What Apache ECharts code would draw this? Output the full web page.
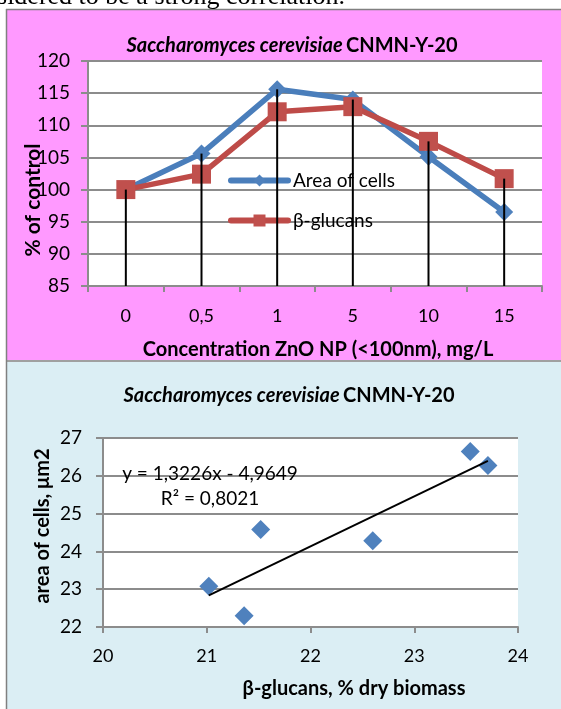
<!DOCTYPE html>
<html><head><meta charset="utf-8">
<script src="https://cdn.jsdelivr.net/npm/echarts@6/dist/echarts.min.js"></script>
<style>html,body{margin:0;padding:0;background:#fff;overflow:hidden}#c{width:561px;height:709px}</style>
</head><body><div id="c"></div>
<script>
// ---- Top chart data ----
const categories = ['0', '0,5', '1', '5', '10', '15'];
const areaOfCells = [100, 105.6, 115.6, 114.0, 105.1, 96.5];
const betaGlucans = [100, 102.4, 112.1, 112.9, 107.5, 101.7];
const topYMin = 85, topYMax = 120, topYStep = 5;

// ---- Bottom chart data ----
const glucansX = [21.02, 21.36, 21.52, 22.60, 23.54, 23.71];
const cellAreaY = [23.08, 22.30, 24.58, 24.28, 26.64, 26.27];
const trendSlope = 1.3226, trendIntercept = -4.9649;
const trendLabel = 'y = 1,3226x - 4,9649';
const r2Label = 'R² = 0,8021';
const botXMin = 20, botXMax = 24, botYMin = 22, botYMax = 27;

const F = 'Lato';
const GRID = '#8c8c8c';

const dropData = categories.map((_, i) => Math.max(areaOfCells[i], betaGlucans[i]));
const scatterData = glucansX.map((x, i) => [x, cellAreaY[i]]);
const tx0 = Math.min(...glucansX), tx1 = Math.max(...glucansX);
const trendData = [[tx0, trendSlope * tx0 + trendIntercept], [tx1, trendSlope * tx1 + trendIntercept]];

const titleRich = {
  i: { fontFamily: F, fontSize: 20, fontWeight: 'bold', fontStyle: 'italic', fill: '#000' },
  b: { fontFamily: F, fontSize: 20, fontWeight: 'bold', fill: '#000' }
};

const chart = echarts.init(document.getElementById('c'));
chart.setOption({
  animation: false,
  graphic: { elements: [
    { type: 'rect', z: -10, shape: { x: 7, y: 10, width: 554, height: 350 }, style: { fill: '#FF99FF' } },
    { type: 'rect', z: -10, shape: { x: 7, y: 362, width: 554, height: 347 }, style: { fill: '#DBEEF4' } },
    { type: 'line', z: -9, shape: { x1: 6.5, y1: 9, x2: 6.5, y2: 709 }, style: { stroke: '#808080', lineWidth: 1.5 } },
    { type: 'line', z: -9, shape: { x1: 6, y1: 9.5, x2: 561, y2: 9.5 }, style: { stroke: '#808080', lineWidth: 1.5 } },
    { type: 'line', z: -9, shape: { x1: 6, y1: 361, x2: 561, y2: 361 }, style: { stroke: '#808080', lineWidth: 1.5 } },
    { type: 'text', x: 345, y: -3, style: { text: 'considered to be a strong correlation.', font: '26px "Liberation Serif"', fill: '#000', align: 'right', verticalAlign: 'middle' } },
    { type: 'text', x: 292, y: 46, style: { text: '{i|Saccharomyces cerevisiae} {b|CNMN-Y-20}', rich: titleRich, align: 'center', verticalAlign: 'middle' } },
    { type: 'text', x: 289, y: 396, style: { text: '{i|Saccharomyces cerevisiae} {b|CNMN-Y-20}', rich: titleRich, align: 'center', verticalAlign: 'middle' } },
    { type: 'text', x: 33, y: 200, rotation: Math.PI / 2, style: { text: '% of control', font: 'bold 21px ' + F, fill: '#000', align: 'center', verticalAlign: 'middle' } },
    { type: 'text', x: 318, y: 350, style: { text: 'Concentration ZnO NP (<100nm), mg/L', font: 'bold 20px ' + F, fill: '#000', align: 'center', verticalAlign: 'middle' } },
    { type: 'text', x: 43, y: 526, rotation: Math.PI / 2, style: { text: 'area of cells, μm2', font: 'bold 20px ' + F, fill: '#000', align: 'center', verticalAlign: 'middle' } },
    { type: 'text', x: 354, y: 689, style: { text: 'β-glucans, % dry biomass', font: 'bold 20px ' + F, fill: '#000', align: 'center', verticalAlign: 'middle' } },
    { type: 'text', x: 210, y: 474, z: 10, style: { text: trendLabel, font: '19px ' + F, fill: '#000', align: 'center', verticalAlign: 'middle' } },
    { type: 'text', x: 210, y: 499, z: 10, style: { text: r2Label, font: '19px ' + F, fill: '#000', align: 'center', verticalAlign: 'middle' } }
  ]},
  legend: {
    left: 228, top: 171, orient: 'vertical', padding: 0,
    itemWidth: 57, itemHeight: 15, itemGap: 21,
    data: ['Area of cells', 'β-glucans'],
    lineStyle: { width: 6, cap: 'round' },
    textStyle: { fontFamily: F, fontSize: 19, color: '#000' }
  },
  grid: [
    { left: 88, top: 61, width: 454, height: 225, show: true, backgroundColor: '#fff', borderWidth: 0 },
    { left: 103, top: 438, width: 415, height: 189, show: true, backgroundColor: '#fff', borderWidth: 0 }
  ],
  xAxis: [
    { type: 'category', gridIndex: 0, data: categories, boundaryGap: true,
      axisLine: { onZero: false, lineStyle: { color: GRID, width: 2 } },
      axisTick: { show: true, length: 6, interval: 0, alignWithLabel: false, lineStyle: { color: GRID, width: 2 } },
      axisLabel: { fontFamily: F, fontSize: 18, color: '#000', margin: 21, interval: 0 },
      splitLine: { show: false } },
    { type: 'value', gridIndex: 1, min: botXMin, max: botXMax, interval: 1,
      axisLine: { onZero: false, lineStyle: { color: GRID, width: 2 } },
      axisTick: { show: true, length: 6, lineStyle: { color: GRID, width: 2 } },
      axisLabel: { fontFamily: F, fontSize: 18, color: '#000', margin: 20 },
      splitLine: { show: false } }
  ],
  yAxis: [
    { type: 'value', gridIndex: 0, min: topYMin, max: topYMax, interval: topYStep,
      axisLine: { show: true, onZero: false, lineStyle: { color: GRID, width: 2 } },
      axisTick: { show: true, length: 7, lineStyle: { color: GRID, width: 2 } },
      axisLabel: { fontFamily: F, fontSize: 19, color: '#000', margin: 18 },
      splitLine: { show: true, lineStyle: { color: GRID, width: 2 } } },
    { type: 'value', gridIndex: 1, min: botYMin, max: botYMax, interval: 1,
      axisLine: { show: true, onZero: false, lineStyle: { color: GRID, width: 2 } },
      axisTick: { show: true, length: 7, lineStyle: { color: GRID, width: 2 } },
      axisLabel: { fontFamily: F, fontSize: 19, color: '#000', margin: 21 },
      splitLine: { show: true, lineStyle: { color: GRID, width: 2 } } }
  ],
  series: [
    { name: 'Area of cells', type: 'line', xAxisIndex: 0, yAxisIndex: 0, data: areaOfCells,
      symbol: 'diamond', symbolSize: 18, z: 3,
      lineStyle: { color: '#4A7EBB', width: 5.5 }, itemStyle: { color: '#4F81BD' } },
    { name: 'β-glucans', type: 'line', xAxisIndex: 0, yAxisIndex: 0, data: betaGlucans,
      symbol: 'rect', symbolSize: 19, z: 4,
      lineStyle: { color: '#BE4B48', width: 5.5 }, itemStyle: { color: '#C0504D' } },
    { name: 'drop', type: 'bar', xAxisIndex: 0, yAxisIndex: 0, data: dropData,
      barWidth: 2, z: 6, silent: true, clip: true, itemStyle: { color: '#000' } },
    { name: 'scatter', type: 'scatter', xAxisIndex: 1, yAxisIndex: 1, data: scatterData,
      symbol: 'diamond', symbolSize: 19, z: 3, itemStyle: { color: '#4F81BD', opacity: 1 } },
    { name: 'trend', type: 'line', xAxisIndex: 1, yAxisIndex: 1, data: trendData,
      showSymbol: false, symbol: 'none', z: 5, silent: true,
      lineStyle: { color: '#000', width: 2 } }
  ]
});
</script>
</body></html>
